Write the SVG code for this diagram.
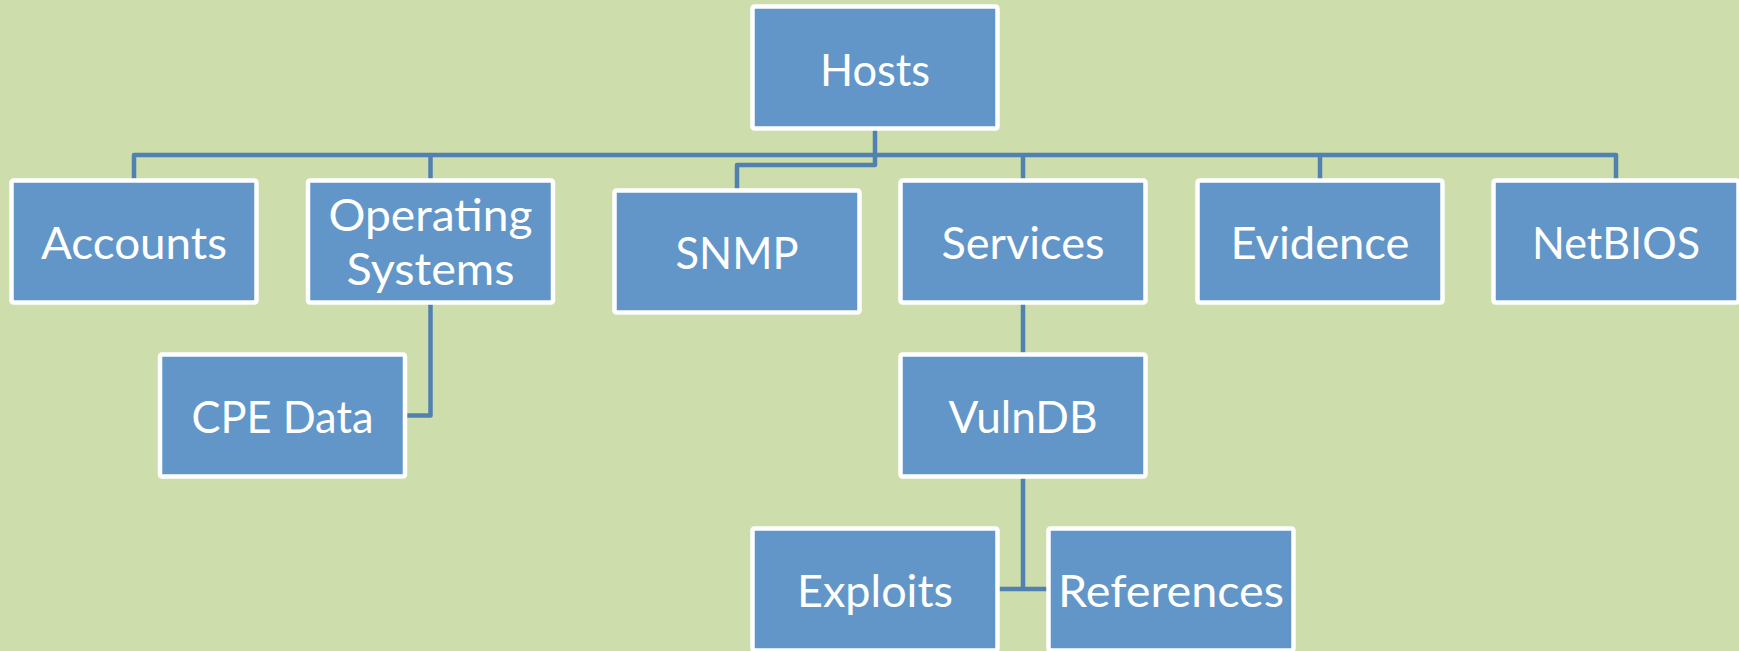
<svg xmlns="http://www.w3.org/2000/svg" width="1739" height="651" viewBox="0 0 1739 651">
<style>
.bg{fill:#CDDDAC}
.box{fill:#6296C8;stroke:#FFFFFF;stroke-width:4.5}
.lbl{font-family:Lato,"Open Sans","Liberation Sans",sans-serif;font-size:45px;fill:#FFFFFF;text-anchor:middle}
.conn{fill:none;stroke:#5181B1;stroke-width:4.5;stroke-linejoin:round}
</style>
<rect class="bg" x="0" y="0" width="1739" height="651"/>
<g id="connectors">
<path class="conn" d="M875,128.5 V155"/>
<path class="conn" d="M134,180.5 V155 H1616 V180.5"/>
<path class="conn" d="M430.5,155 V180.5"/>
<path class="conn" d="M1023,155 V180.5"/>
<path class="conn" d="M1320,155 V180.5"/>
<path class="conn" d="M875,155 V165 H737 V190.5"/>
<path class="conn" d="M430.5,302.5 V415.5 H405"/>
<path class="conn" d="M1023,302.5 V354.5"/>
<path class="conn" d="M1023,476.5 V589"/>
<path class="conn" d="M997.5,589 H1048.5"/>
</g>
<g id="hosts"><rect class="box" x="752.5" y="6.5" width="245" height="122" rx="2"/><text class="lbl" x="875" y="85.5" textLength="110" lengthAdjust="spacingAndGlyphs">Hosts</text></g>
<g id="accounts"><rect class="box" x="11.5" y="180.5" width="245" height="122" rx="2"/><text class="lbl" x="134" y="259" textLength="186" lengthAdjust="spacingAndGlyphs">Accounts</text></g>
<g id="operating-systems"><rect class="box" x="308" y="180.5" width="245" height="122" rx="2"/><text class="lbl" x="430.5" y="231" textLength="204" lengthAdjust="spacingAndGlyphs">Operating</text><text class="lbl" x="430.5" y="285" textLength="168" lengthAdjust="spacingAndGlyphs">Systems</text></g>
<g id="snmp"><rect class="box" x="614.5" y="190.5" width="245" height="122" rx="2"/><text class="lbl" x="737" y="268.5" textLength="123" lengthAdjust="spacingAndGlyphs">SNMP</text></g>
<g id="services"><rect class="box" x="900.5" y="180.5" width="245" height="122" rx="2"/><text class="lbl" x="1023" y="259" textLength="163" lengthAdjust="spacingAndGlyphs">Services</text></g>
<g id="evidence"><rect class="box" x="1197.5" y="180.5" width="245" height="122" rx="2"/><text class="lbl" x="1320" y="259" textLength="179" lengthAdjust="spacingAndGlyphs">Evidence</text></g>
<g id="netbios"><rect class="box" x="1493.5" y="180.5" width="245" height="122" rx="2"/><text class="lbl" x="1616" y="259" textLength="168" lengthAdjust="spacingAndGlyphs">NetBIOS</text></g>
<g id="cpe-data"><rect class="box" x="160" y="354.5" width="245" height="122" rx="2"/><text class="lbl" x="282.5" y="433.3" textLength="182" lengthAdjust="spacingAndGlyphs">CPE Data</text></g>
<g id="vulndb"><rect class="box" x="900.5" y="354.5" width="245" height="122" rx="2"/><text class="lbl" x="1023" y="433.3" textLength="149" lengthAdjust="spacingAndGlyphs">VulnDB</text></g>
<g id="exploits"><rect class="box" x="752.5" y="528.5" width="245" height="122" rx="2"/><text class="lbl" x="875" y="607.3" textLength="156" lengthAdjust="spacingAndGlyphs">Exploits</text></g>
<g id="references"><rect class="box" x="1048.5" y="528.5" width="245" height="122" rx="2"/><text class="lbl" x="1171" y="607.3" textLength="226" lengthAdjust="spacingAndGlyphs">References</text></g>
</svg>
